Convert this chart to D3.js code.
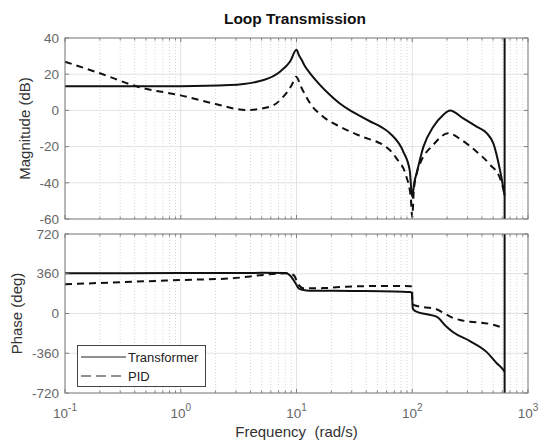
<!DOCTYPE html>
<html>
<head>
<meta charset="utf-8">
<script src="https://cdn.jsdelivr.net/npm/d3@7"></script>
<style>
  body { margin: 0; background: #fff; }
  svg { font-family: "Liberation Sans", Arial, sans-serif; }
</style>
</head>
<body>
<div id="chart"></div>
<script>
// magnitude (dB) readings
const magTfFreq = [0.1, 1, 2.66, 5.2, 7.2, 8.8, 10, 10.5, 11.1, 11.8, 13.1, 16, 19.5, 24, 29, 34, 43, 55, 64, 84, 95, 100, 104, 109, 125, 152, 185, 212, 276, 360, 440, 502, 573, 628];
const magTfVal = [13.3, 13.4, 14, 16.8, 21.4, 27, 33.5, 30.5, 27.8, 24.5, 20.5, 14, 8.5, 3.5, 0, -2.5, -6, -9.5, -12.6, -23, -33, -48, -40, -34.8, -20, -9, -2.5, 0, -4.4, -9, -12.6, -18.2, -33, -47];

const magPidFreq = [0.1, 0.2, 0.44, 1, 2, 3.7, 5.9, 7.7, 9.1, 9.9, 11.1, 13.1, 17, 23.8, 34, 64, 73, 89, 97, 100, 103, 110, 117, 152, 204, 267, 360, 470, 573, 628];
const magPidVal = [26.9, 20.5, 12.8, 8.3, 3.5, 0.2, 2, 7.6, 14, 18.6, 12.2, 3.9, -3.5, -9, -13.6, -21.9, -26.5, -36.6, -48, -59, -45, -34, -29.2, -19, -12.6, -16.4, -22.8, -30, -37.5, -46];

// phase (deg) readings
const phTfFreq = [0.1, 1, 5, 8, 8.8, 9.8, 10.5, 11.5, 13, 30, 70, 95, 99.2, 101, 103, 109, 130, 162, 198, 226, 315, 440, 537, 600, 628];
const phTfVal = [364, 366, 368, 366, 345, 275, 225, 212, 207, 204, 200, 194, 188, 50, 32, 16, -5, -29, -120, -170, -250, -350, -451, -500, -527];

const phPidFreq = [0.1, 0.39, 1, 2.8, 5.1, 7, 8.5, 9.5, 10.3, 11.4, 17, 27, 50, 83, 97, 99.5, 100.5, 106, 162, 189, 219, 259, 315, 470, 612, 628];
const phPidVal = [264, 288, 303, 319, 349, 362, 364, 345, 270, 228, 230, 243, 249, 249, 246, 235, 90, 72, 38, 2, -35, -59, -74, -95, -134, -140];

const magTicks = [40, 20, 0, -20, -40, -60];
const phaseTicks = [720, 360, 0, -360, -720];
const decades = [-1, 0, 1, 2, 3];
const cutoffFreq = 628;
const legendLabels = ["Transformer", "PID"];

const width = 540, height = 443;
const left = 65, right = 528;
const top1 = 38, bottom1 = 219, top2 = 234, bottom2 = 393;

const svg = d3.select("#chart").append("svg")
  .attr("width", width)
  .attr("height", height);

const x = d3.scaleLog().domain([0.1, 1000]).range([left, right]);
const yMag = d3.scaleLinear().domain([-60, 40]).range([bottom1, top1]);
const yPh = d3.scaleLinear().domain([-720, 720]).range([bottom2, top2]);

const minorFreqs = [];
decades.slice(0, -1).forEach((d) => {
  for (let k = 2; k <= 9; k++) minorFreqs.push(k * Math.pow(10, d));
});

function drawPanel(y, top, bottom, ticks, series, ylabel, labelX) {
  const g = svg.append("g");

  // grid
  g.selectAll(".minor").data(minorFreqs).enter().append("line")
    .attr("x1", (d) => x(d)).attr("x2", (d) => x(d))
    .attr("y1", top).attr("y2", bottom)
    .attr("stroke", "#d6d6d6").attr("stroke-dasharray", "1,2");
  g.selectAll(".major").data(decades.map((d) => Math.pow(10, d))).enter().append("line")
    .attr("x1", (d) => x(d)).attr("x2", (d) => x(d))
    .attr("y1", top).attr("y2", bottom)
    .attr("stroke", "#e2e2e2");
  g.selectAll(".hgrid").data(ticks).enter().append("line")
    .attr("x1", left).attr("x2", right)
    .attr("y1", (d) => y(d)).attr("y2", (d) => y(d))
    .attr("stroke", "#e2e2e2");

  // curves
  const line = d3.line()
    .x((d) => x(d[0]))
    .y((d) => y(d[1]))
    .curve(d3.curveMonotoneX);

  series.forEach((s) => {
    g.append("path")
      .datum(s.freq.map((f, i) => [f, s.val[i]]))
      .attr("d", line)
      .attr("fill", "none")
      .attr("stroke", "#111")
      .attr("stroke-width", 2)
      .attr("stroke-dasharray", s.dash);
  });

  // cutoff line
  g.append("line")
    .attr("x1", x(cutoffFreq)).attr("x2", x(cutoffFreq))
    .attr("y1", top).attr("y2", bottom)
    .attr("stroke", "#111").attr("stroke-width", 2);

  // box
  g.append("rect")
    .attr("x", left).attr("y", top)
    .attr("width", right - left).attr("height", bottom - top)
    .attr("fill", "none").attr("stroke", "#808080");

  // ticks
  const allX = decades.map((d) => Math.pow(10, d));
  [[bottom, -1], [top, 1]].forEach(([yy, dir]) => {
    g.selectAll(null).data(allX).enter().append("line")
      .attr("x1", (d) => x(d)).attr("x2", (d) => x(d))
      .attr("y1", yy).attr("y2", yy + dir * 4).attr("stroke", "#808080");
    g.selectAll(null).data(minorFreqs).enter().append("line")
      .attr("x1", (d) => x(d)).attr("x2", (d) => x(d))
      .attr("y1", yy).attr("y2", yy + dir * 2.5).attr("stroke", "#808080");
  });
  [[left, 1], [right, -1]].forEach(([xx, dir]) => {
    g.selectAll(null).data(ticks).enter().append("line")
      .attr("x1", xx).attr("x2", xx + dir * 4)
      .attr("y1", (d) => y(d)).attr("y2", (d) => y(d)).attr("stroke", "#808080");
  });

  g.selectAll(".ylab").data(ticks).enter().append("text")
    .attr("x", left - 6)
    .attr("y", (d) => y(d))
    .attr("dy", "0.35em")
    .attr("text-anchor", "end")
    .attr("fill", "#666")
    .style("font-size", "13.5px")
    .text((d) => d);

  g.append("text")
    .attr("transform", `translate(${labelX},${(top + bottom) / 2}) rotate(-90)`)
    .attr("text-anchor", "middle")
    .attr("fill", "#333")
    .style("font-size", "15px")
    .text(ylabel);
}

drawPanel(yMag, top1, bottom1, magTicks, [
  { freq: magTfFreq, val: magTfVal, dash: null },
  { freq: magPidFreq, val: magPidVal, dash: "7,5" }
], "Magnitude (dB)", 30);

drawPanel(yPh, top2, bottom2, phaseTicks, [
  { freq: phTfFreq, val: phTfVal, dash: null },
  { freq: phPidFreq, val: phPidVal, dash: "7,5" }
], "Phase (deg)", 22);

// x tick labels
const xl = svg.selectAll(".xlab").data(decades).enter().append("text")
  .attr("x", (d) => x(Math.pow(10, d)))
  .attr("y", 418)
  .attr("text-anchor", "middle")
  .attr("fill", "#666")
  .style("font-size", "13.5px");
xl.append("tspan").text("10");
xl.append("tspan").attr("dy", -7).style("font-size", "10px").text((d) => d);

svg.append("text")
  .attr("x", (left + right) / 2)
  .attr("y", 437)
  .attr("text-anchor", "middle")
  .attr("fill", "#333")
  .style("font-size", "15px")
  .attr("xml:space", "preserve")
  .text("Frequency  (rad/s)");

svg.append("text")
  .attr("x", 295)
  .attr("y", 24)
  .attr("text-anchor", "middle")
  .attr("fill", "#111")
  .style("font-size", "15.5px")
  .style("font-weight", "bold")
  .text("Loop Transmission");

// legend
const legend = svg.append("g");
legend.append("rect")
  .attr("x", 77.5).attr("y", 345.5)
  .attr("width", 128).attr("height", 41)
  .attr("fill", "#fff").attr("stroke", "#444");
legendLabels.forEach((label, i) => {
  const yy = 357 + i * 19;
  legend.append("line")
    .attr("x1", 81).attr("x2", 126)
    .attr("y1", yy).attr("y2", yy)
    .attr("stroke", "#222").attr("stroke-width", 1.2)
    .attr("stroke-dasharray", i === 1 ? "10,5" : null);
  legend.append("text")
    .attr("x", 128).attr("y", yy)
    .attr("dy", "0.35em")
    .attr("fill", "#222")
    .style("font-size", "13px")
    .text(label);
});
</script>
</body>
</html>
